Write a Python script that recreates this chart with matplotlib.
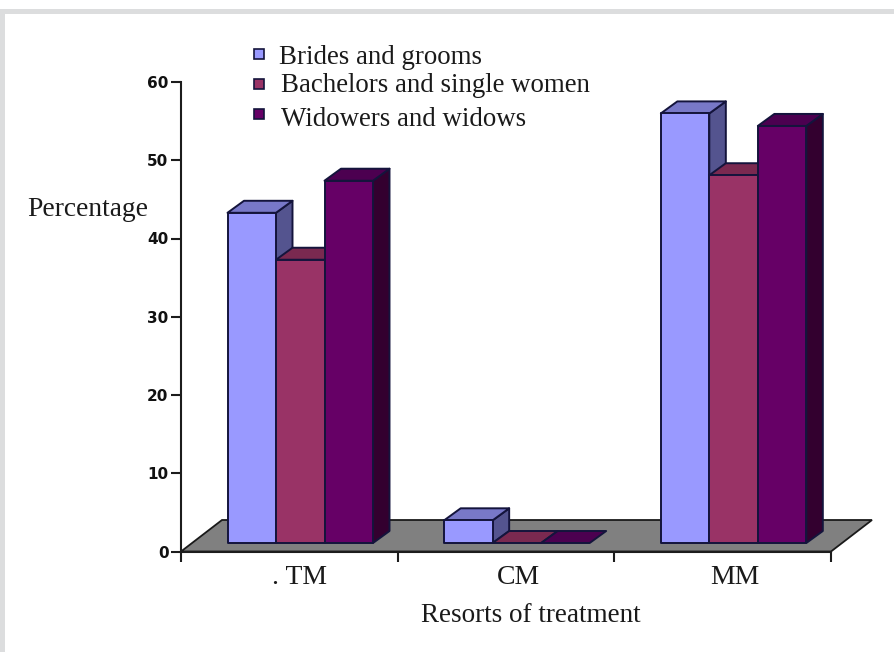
import matplotlib
matplotlib.use('Agg')
import matplotlib.pyplot as plt
from matplotlib.patches import Polygon, Rectangle

W, H = 894, 652

# percentages per resort of treatment
categories = ['. TM', 'CM', 'MM']
series_names = ['Brides and grooms', 'Bachelors and single women', 'Widowers and widows']
brides = [42.2, 2.9, 54.9]
bachelors = [36.2, 0, 47.0]
widowers = [46.3, 0, 53.3]
y_ticks = [0, 10, 20, 30, 40, 50, 60]

# front, top and side face colours for each series
front_colors = ['#9999ff', '#993366', '#660066']
top_colors = ['#7878c8', '#7a2950', '#4c0050']
side_colors = ['#54548f', '#5c1f3d', '#33002f']
edge_color = '#14143c'

serif = 'Liberation Serif'

fig = plt.figure(figsize=(W / 100, H / 100), dpi=100, facecolor='white')

# grey frame around the white panel
fig.patches.append(Rectangle((0, 0), 1, 1 - 9 / H, transform=fig.transFigure,
                             facecolor='#dcddde', edgecolor='none', zorder=-5))
fig.patches.append(Rectangle((5 / W, 0), 1 - 5 / W, 1 - 14 / H, transform=fig.transFigure,
                             facecolor='white', edgecolor='none', zorder=-4))

ax = fig.add_axes([181 / W, 1 - 551.5 / H, 650 / W, 469.5 / H])
ax.patch.set_alpha(0)
ax.set_xlim(0, 3)
ax.set_ylim(0, 60)

# depth of the 3d look, in data units
px_x = 3 / 650
px_y = 60 / 469.5
depth_x = 16.5 * px_x
depth_y = 12 * px_y
floor_x = 41 * px_x
floor_y = 31.5 * px_y
base = 8.5 * px_y
bar_w = 48.5 * px_x
group_start = 46.5 * px_x


def add_poly(pts, color, z):
    ax.add_patch(Polygon(pts, closed=True, facecolor=color, edgecolor=edge_color,
                         linewidth=1.4, joinstyle='round', clip_on=False, zorder=z))


def bar3d(x, value, idx, z):
    top = base + value
    if value > 0:
        add_poly([(x + bar_w, base), (x + bar_w + depth_x, base + depth_y),
                  (x + bar_w + depth_x, top + depth_y), (x + bar_w, top)], side_colors[idx], z)
    add_poly([(x, top), (x + depth_x, top + depth_y),
              (x + bar_w + depth_x, top + depth_y), (x + bar_w, top)], top_colors[idx], z)
    if value > 0:
        add_poly([(x, base), (x, top), (x + bar_w, top), (x + bar_w, base)], front_colors[idx], z)


# floor
ax.add_patch(Polygon([(0, 0), (floor_x, floor_y), (3 + floor_x, floor_y), (3, 0)], closed=True,
                     facecolor='#808080', edgecolor='#1a1a1a', linewidth=1.3,
                     clip_on=False, zorder=1))

z = 2
for g in range(len(categories)):
    for idx, vals in enumerate([brides, bachelors, widowers]):
        bar3d(g + group_start + idx * bar_w, vals[g], idx, z)
        z += 1

for side in ['top', 'right']:
    ax.spines[side].set_visible(False)
for side in ['left', 'bottom']:
    ax.spines[side].set_linewidth(1.5)
    ax.spines[side].set_color('#1c1c1c')
    ax.spines[side].set_zorder(z + 1)

ax.set_yticks(y_ticks)
ax.set_yticklabels([str(t) for t in y_ticks], fontsize=11, fontweight='bold',
                   family='DejaVu Sans', color='#111111')
ax.set_xticks([0, 1, 2, 3])
ax.set_xticklabels([])
ax.tick_params(axis='y', length=7, width=1.5, color='#1c1c1c', pad=2)
ax.tick_params(axis='x', length=7, width=1.5, color='#1c1c1c')


def label(x, y, s, **kw):
    fig.text(x / W, 1 - y / H, s, family=serif, color='#1a1a1a', **kw)


# category names sit a little right of the group centres
for x, name in zip([299, 518, 735], categories):
    label(x, 577, name, fontsize=20, ha='center', va='center')

label(88, 209, 'Percentage', fontsize=19.8, ha='center', va='center')
label(531, 616, 'Resorts of treatment', fontsize=19.5, ha='center', va='center')

# legend
legend_y = [54, 84, 114]
legend_text_y = [57, 86, 120]
legend_text_x = [279, 281, 281]
for i, name in enumerate(series_names):
    fig.patches.append(Rectangle(((254) / W, 1 - (legend_y[i] + 5) / H), 10 / W, 10 / H,
                                 transform=fig.transFigure, facecolor=front_colors[i],
                                 edgecolor=edge_color, linewidth=1.2))
    label(legend_text_x[i], legend_text_y[i], name, fontsize=19.4, ha='left', va='center')

fig.savefig('out.png', dpi=100)
